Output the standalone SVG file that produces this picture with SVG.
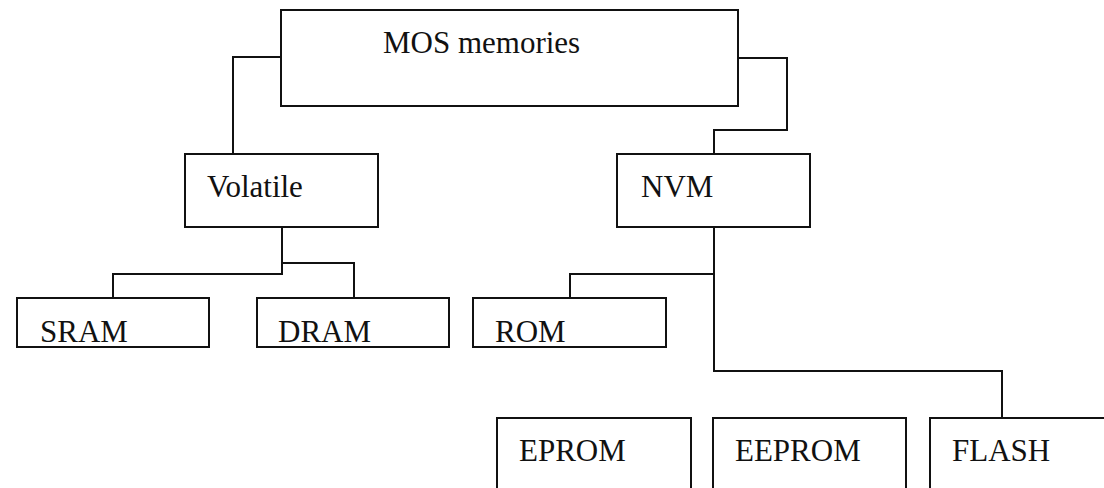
<svg xmlns="http://www.w3.org/2000/svg" width="1104" height="488" viewBox="0 0 1104 488">
  <style>
    .box { fill: #ffffff; stroke: #111111; stroke-width: 2; }
    .lbl { font-family: "Liberation Serif", "Times New Roman", serif; font-size: 31px; fill: #111111; }
    .conn { fill: none; stroke: #111111; stroke-width: 2; }
  </style>
  <rect x="0" y="0" width="1104" height="488" fill="#ffffff"/>
  <g id="connectors">
    <polyline class="conn" points="281,57 233,57 233,154"/>
    <polyline class="conn" points="738,58 787,58 787,130 714,130 714,154"/>
    <polyline class="conn" points="282,227 282,263 354,263 354,298"/>
    <polyline class="conn" points="282,263 282,274 113,274 113,298"/>
    <polyline class="conn" points="714,227 714,371 1002,371 1002,418"/>
    <polyline class="conn" points="714,274 570,274 570,298"/>
  </g>
  <g id="mos">
    <rect class="box" x="281" y="10" width="457" height="96"/>
    <text class="lbl" x="383" y="53">MOS memories</text>
  </g>
  <g id="volatile">
    <rect class="box" x="185" y="154" width="193" height="73"/>
    <text class="lbl" x="207" y="197">Volatile</text>
  </g>
  <g id="nvm">
    <rect class="box" x="617" y="154" width="193" height="73"/>
    <text class="lbl" x="641" y="197">NVM</text>
  </g>
  <g id="sram">
    <rect class="box" x="17" y="298" width="192" height="49"/>
    <text class="lbl" x="40" y="342">SRAM</text>
  </g>
  <g id="dram">
    <rect class="box" x="257" y="298" width="192" height="49"/>
    <text class="lbl" x="278" y="342">DRAM</text>
  </g>
  <g id="rom">
    <rect class="box" x="473" y="298" width="193" height="49"/>
    <text class="lbl" x="495" y="342">ROM</text>
  </g>
  <g id="eprom">
    <rect class="box" x="497" y="418" width="194" height="90"/>
    <text class="lbl" x="519" y="461">EPROM</text>
  </g>
  <g id="eeprom">
    <rect class="box" x="713" y="418" width="193" height="90"/>
    <text class="lbl" x="735" y="461">EEPROM</text>
  </g>
  <g id="flash">
    <rect class="box" x="930" y="418" width="190" height="90"/>
    <text class="lbl" x="952" y="461">FLASH</text>
  </g>
</svg>
